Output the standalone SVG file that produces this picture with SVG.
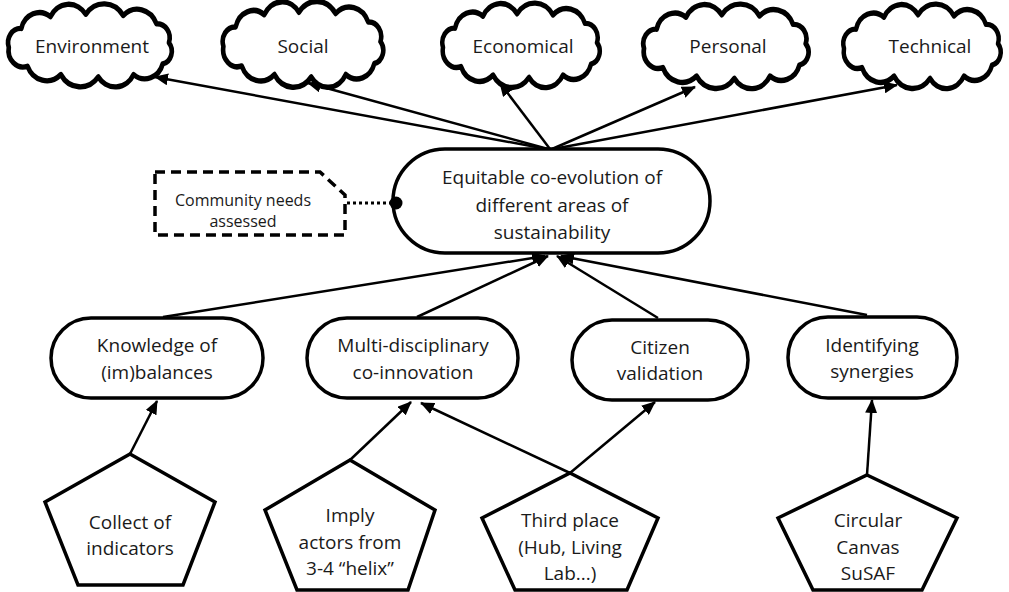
<svg xmlns="http://www.w3.org/2000/svg" xmlns:xlink="http://www.w3.org/1999/xlink" width="1009" height="592" viewBox="0 0 1009 592">
<style>
  .bg { fill: #ffffff; }
  .cloud { fill: #ffffff; stroke: #000000; stroke-width: 4.5; stroke-linejoin: round; }
  .node { fill: #ffffff; stroke: #000000; stroke-width: 3.5; }
  .pent { fill: #ffffff; stroke: #000000; stroke-width: 3.5; stroke-linejoin: miter; }
  .dash { fill: #ffffff; stroke: #000000; stroke-width: 3.5; stroke-dasharray: 10 6; }
  .t { font-family: "Open Sans", "Liberation Sans", sans-serif; font-size: 19px; fill: #1a1a1a; text-anchor: middle; }
  .ts { font-family: "Open Sans", "Liberation Sans", sans-serif; font-size: 16px; fill: #1a1a1a; text-anchor: middle; }
  .edge { fill: none; stroke: #000000; stroke-width: 2.5; marker-end: url(#arrow); }
  .dot { fill: none; stroke: #000000; stroke-width: 3; stroke-dasharray: 3 3; }
</style>
<defs>
  <marker id="arrow" markerUnits="userSpaceOnUse" markerWidth="14" markerHeight="12" refX="13" refY="6" orient="auto">
    <path d="M0,0 L14,6 L0,12 z" fill="#000000"/>
  </marker>
  <path id="cloudShape" d="M -80,2 A 12,12 0 0 1 -68,-14 A 18,18 0 0 1 -40,-24 A 20,20 0 0 1 -6,-26 A 22,22 0 0 1 30,-25 A 20,20 0 0 1 62,-18 A 12,12 0 0 1 74,-2 A 11,11 0 0 1 68,16 A 18,18 0 0 1 40,25 A 20,20 0 0 1 6,27 A 22,22 0 0 1 -30,25 A 20,20 0 0 1 -62,18 A 14,14 0 0 1 -80,2 Z"/>
</defs>
<rect class="bg" x="0" y="0" width="1009" height="592"/>

<g id="connectors">
  <line class="edge" x1="547" y1="149" x2="155" y2="77"/>
  <line class="edge" x1="548" y1="149" x2="308" y2="83"/>
  <line class="edge" x1="550" y1="149" x2="500" y2="83"/>
  <line class="edge" x1="552" y1="149" x2="695" y2="87"/>
  <line class="edge" x1="553" y1="149" x2="897" y2="85"/>
  <line class="edge" x1="163" y1="317" x2="545" y2="256"/>
  <line class="edge" x1="417" y1="317" x2="548" y2="256"/>
  <line class="edge" x1="658" y1="318" x2="557" y2="256"/>
  <line class="edge" x1="867" y1="315" x2="561" y2="256"/>
  <line class="edge" x1="130" y1="454" x2="157" y2="401"/>
  <line class="edge" x1="350" y1="460" x2="411" y2="402"/>
  <line class="edge" x1="570" y1="473" x2="421" y2="403"/>
  <line class="edge" x1="570" y1="473" x2="655" y2="402"/>
  <line class="edge" x1="867" y1="475" x2="872" y2="400"/>
  <line class="dot" x1="347" y1="203" x2="392" y2="203"/>
</g>

<g id="cloud-environment">
  <use xlink:href="#cloudShape" class="cloud" transform="translate(92,45) scale(1.04,1.18)"/>
  <text class="t" x="92" y="53">Environment</text>
</g>
<g id="cloud-social">
  <use xlink:href="#cloudShape" class="cloud" transform="translate(305,44) scale(1.02,1.22)"/>
  <text class="t" x="303" y="53">Social</text>
</g>
<g id="cloud-economical">
  <use xlink:href="#cloudShape" class="cloud" transform="translate(523,45) scale(1.0,1.2)"/>
  <text class="t" x="523" y="53">Economical</text>
</g>
<g id="cloud-personal">
  <use xlink:href="#cloudShape" class="cloud" transform="translate(728,46) scale(1.05,1.2)"/>
  <text class="t" x="728" y="53">Personal</text>
</g>
<g id="cloud-technical">
  <use xlink:href="#cloudShape" class="cloud" transform="translate(924,46) scale(1.0,1.2)"/>
  <text class="t" x="930" y="53">Technical</text>
</g>

<g id="node-main">
  <rect class="node" x="393" y="149" width="317" height="104" rx="52" ry="52"/>
  <text class="t" x="552" y="184">Equitable co-evolution of</text>
  <text class="t" x="552" y="212">different areas of</text>
  <text class="t" x="552" y="239">sustainability</text>
  <circle cx="396" cy="203" r="6.5" fill="#000000"/>
</g>

<g id="node-community">
  <polygon class="dash" points="155,172 320,172 345,195 345,235 155,235"/>
  <text class="ts" x="243" y="206">Community needs</text>
  <text class="ts" x="243" y="227">assessed</text>
</g>

<g id="node-knowledge">
  <rect class="node" x="51" y="318" width="212" height="80" rx="40" ry="40"/>
  <text class="t" x="157" y="352">Knowledge of</text>
  <text class="t" x="157" y="379">(im)balances</text>
</g>
<g id="node-multi">
  <rect class="node" x="307" y="318" width="211" height="80" rx="40" ry="40"/>
  <text class="t" x="413" y="352">Multi-disciplinary</text>
  <text class="t" x="413" y="379">co-innovation</text>
</g>
<g id="node-citizen">
  <rect class="node" x="572" y="320" width="176" height="80" rx="40" ry="40"/>
  <text class="t" x="660" y="354">Citizen</text>
  <text class="t" x="660" y="380">validation</text>
</g>
<g id="node-synergies">
  <rect class="node" x="788" y="317" width="169" height="81" rx="40" ry="40"/>
  <text class="t" x="872" y="352">Identifying</text>
  <text class="t" x="872" y="378">synergies</text>
</g>

<g id="node-collect">
  <polygon class="pent" points="130,454 215,502 183,585 78,585 45,502"/>
  <text class="t" x="130" y="529">Collect of</text>
  <text class="t" x="130" y="555">indicators</text>
</g>
<g id="node-imply">
  <polygon class="pent" points="350,460 435,510 408,590 297,590 265,510"/>
  <text class="t" x="350" y="522">Imply</text>
  <text class="t" x="350" y="549">actors from</text>
  <text class="t" x="350" y="575">3-4 “helix”</text>
</g>
<g id="node-third">
  <polygon class="pent" points="570,473 658,518 627,590 515,590 482,518"/>
  <text class="t" x="570" y="527">Third place</text>
  <text class="t" x="570" y="554">(Hub, Living</text>
  <text class="t" x="570" y="580">Lab...)</text>
</g>
<g id="node-circular">
  <polygon class="pent" points="867,475 957,518 922,590 813,590 778,518"/>
  <text class="t" x="868" y="527">Circular</text>
  <text class="t" x="868" y="554">Canvas</text>
  <text class="t" x="868" y="580">SuSAF</text>
</g>
</svg>
